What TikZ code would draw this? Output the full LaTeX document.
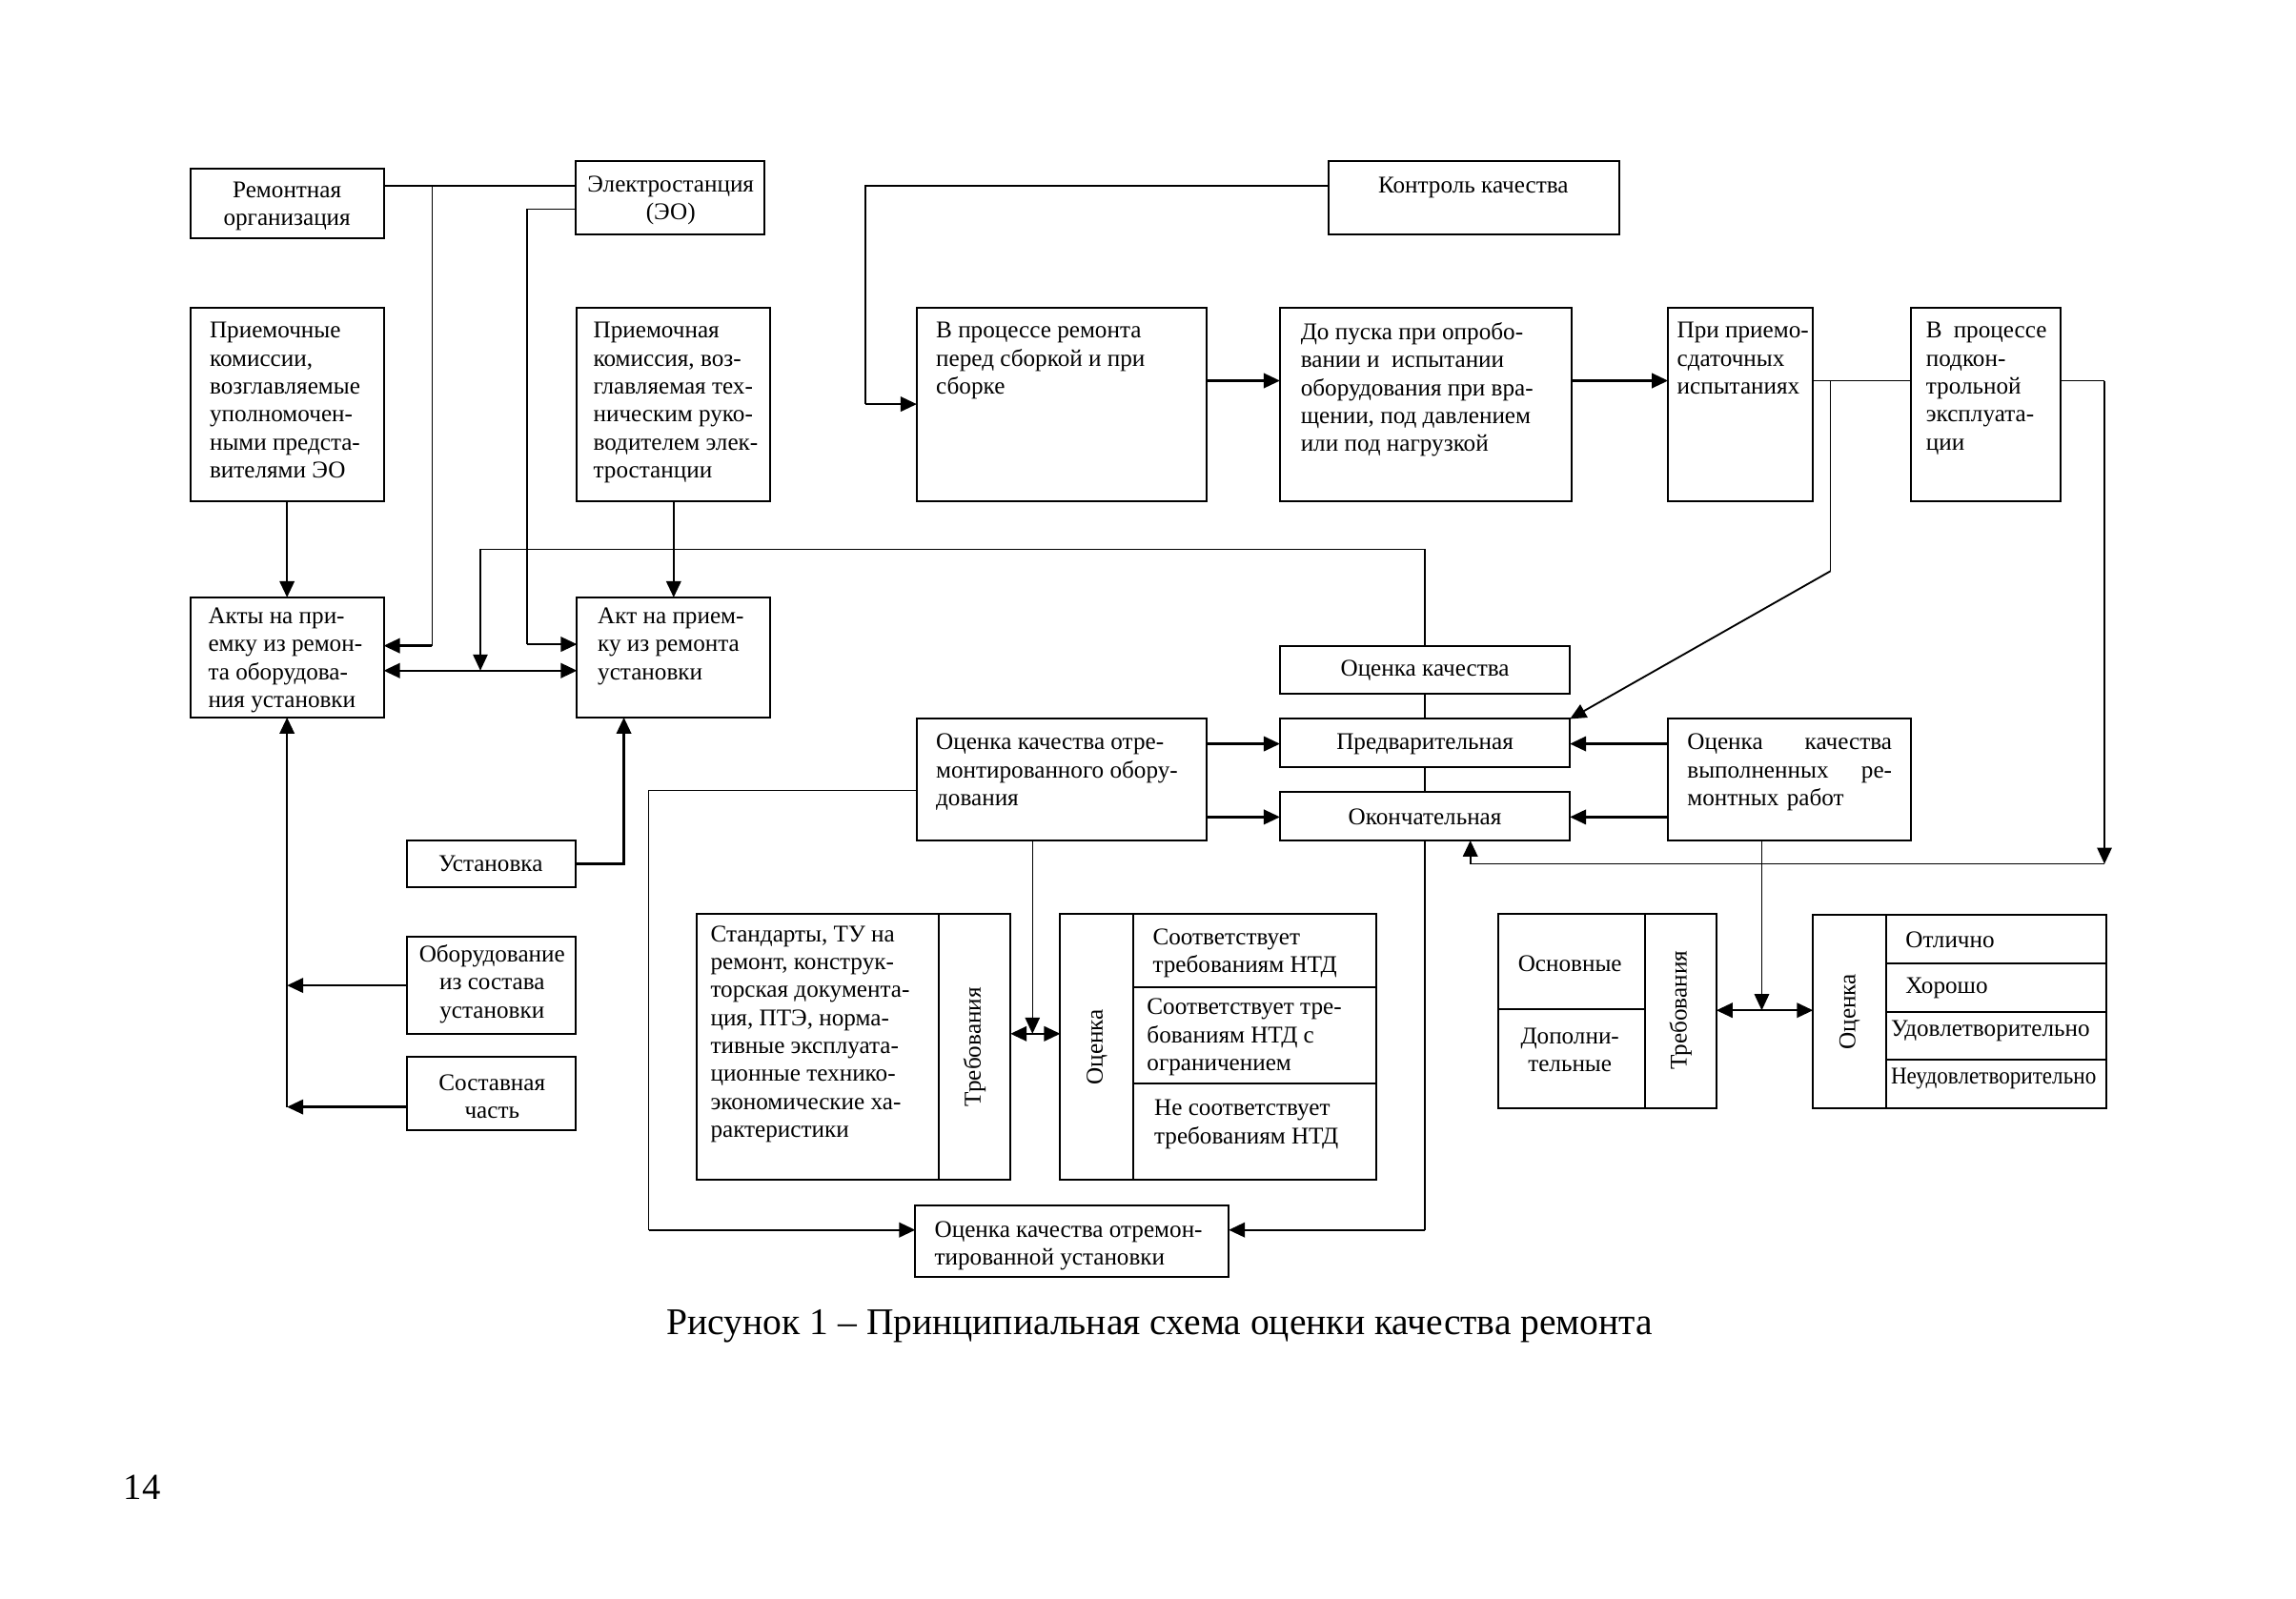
\documentclass[tikz,border=0pt]{standalone}
\usepackage{fontspec}
\setmainfont{Liberation Serif}
\usetikzlibrary{arrows.meta,calc}
\newcommand\mkbox[5]{\node[box, minimum width={(#4-#2)*0.995pt}, minimum height={(#5-#3)*0.995pt}] (#1) at (#2,#3) {};}
\begin{document}
\begin{tikzpicture}[x=0.995pt,y=-0.995pt,
  box/.style={draw, line width=1.3pt, inner sep=0pt, outer sep=0pt, anchor=north west},
  txt/.style={inner sep=0pt, align=left, anchor=north west, font=\fontsize{16.3}{19}\selectfont},
  ctxt/.style={inner sep=0pt, align=center, font=\fontsize{16.3}{19}\selectfont},
  ln/.style={line width=0.9pt},
  tip/.style={-{Triangle[length=11pt,width=10pt]}},
  arr/.style={line width=1.5pt, tip},
  arrt/.style={line width=0.9pt, tip},
  darr/.style={line width=1.5pt, {Triangle[length=11pt,width=10pt]}-{Triangle[length=11pt,width=10pt]}},
  divl/.style={line width=1.3pt}
]
\useasboundingbox (0,0) rectangle (1567.8,1091.5);
% ---------- boxes ----------
\mkbox{ro}{130}{115}{262}{163}
\mkbox{eo}{393}{110}{522}{160}
\mkbox{pk1}{130}{210}{262}{342}
\mkbox{pk2}{394}{210}{526}{342}
\mkbox{akt1}{130}{408}{262}{490}
\mkbox{akt2}{394}{408}{526}{490}
\mkbox{ust}{278}{574}{393}{606}
\mkbox{obo}{278}{640}{393}{706}
\mkbox{sost}{278}{722}{393}{772}
\mkbox{kk}{907}{110}{1106}{160}
\mkbox{s1}{626}{210}{824}{342}
\mkbox{s2}{874}{210}{1073}{342}
\mkbox{s3}{1139}{210}{1238}{342}
\mkbox{s4}{1305}{210}{1407}{342}
\mkbox{ok}{874}{441}{1072}{474}
\mkbox{pr}{874}{491}{1072}{524}
\mkbox{fin}{874}{541}{1072}{574}
\mkbox{oob}{626}{491}{824}{574}
\mkbox{ovr}{1139}{491}{1305}{574}
\mkbox{trb1}{476}{624}{690}{806}
\mkbox{ocn1}{724}{624}{940}{806}
\mkbox{trb2}{1023}{624}{1172}{757}
\mkbox{ocn2}{1238}{625}{1438}{757}
\mkbox{oust}{625}{823}{839}{872}
% dividers
\draw[divl] (641,624) -- (641,806);
\draw[divl] (774,624) -- (774,806);
\draw[divl] (774,674) -- (940,674);
\draw[divl] (774,740) -- (940,740);
\draw[divl] (1123,624) -- (1123,757);
\draw[divl] (1023,689) -- (1123,689);
\draw[divl] (1288,625) -- (1288,757);
\draw[divl] (1288,658) -- (1438,658);
\draw[divl] (1288,691) -- (1438,691);
\draw[divl] (1288,724) -- (1438,724);
% ---------- texts ----------
\node[ctxt] (t1) at (196,141) {Ремонтная\\организация};
\node[ctxt] (t2) at (458,137) {Электростанция\\(ЭО)};
\node[txt] (t3) at (143,220) {Приемочные\\комиссии,\\возглавляемые\\уполномочен-\\ными предста-\\вителями ЭО};
\node[txt] (t4) at (405,220) {Приемочная\\комиссия, воз-\\главляемая тех-\\ническим руко-\\водителем элек-\\тростанции};
\node[txt] (t5) at (142,415) {Акты на при-\\емку из ремон-\\та оборудова-\\ния установки};
\node[txt] (t6) at (408,415) {Акт на прием-\\ку из ремонта\\установки};
\node[ctxt] (t7) at (335,590) {Установка};
\node[ctxt] (t8) at (336,672) {Оборудование\\из состава\\установки};
\node[ctxt] (t9) at (336,749) {Составная\\часть};
\node[ctxt] (t10) at (1006,128) {Контроль качества};
\node[txt] (t11) at (639,220) {В процессе ремонта\\перед сборкой и при\\сборке};
\node[txt] (t12) at (888,220) {До пуска при опробо-\\вании и~ испытании\\оборудования при вра-\\щении, под давлением\\или под нагрузкой};
\node[txt] (t13) at (1145,220) {При приемо-\\сдаточных\\испытаниях};
\node[txt, text width=82pt] (t14) at (1315,220) {В\hfill процессе\\подкон-\\трольной\\эксплуата-\\ции};
\node[ctxt] (t15) at (973,458) {Оценка качества};
\node[ctxt] (t16) at (973,508) {Предварительная};
\node[ctxt] (t17) at (973,558) {Окончательная};
\node[txt] (t18) at (639,501) {Оценка качества отре-\\монтированного обору-\\дования};
\node[txt, text width=139pt] (t19) at (1152,501) {Оценка\hfill качества\\выполненных\hfill ре-\\монтных работ};
\node[txt] (t20) at (485,632) {Стандарты, ТУ на\\ремонт, конструк-\\торская документа-\\ция, ПТЭ, норма-\\тивные эксплуата-\\ционные технико-\\экономические ха-\\рактеристики};
\node[ctxt, rotate=90] (t21) at (665.5,715) {Требования};
\node[ctxt, rotate=90] (t22) at (749,715) {Оценка};
\node[txt] (t23) at (787,634) {Соответствует\\требованиям НТД};
\node[txt] (t24) at (783,682) {Соответствует тре-\\бованиям НТД с\\ограничением};
\node[txt] (t25) at (788,751) {Не соответствует\\требованиям НТД};
\node[ctxt] (t26) at (1072,658) {Основные};
\node[ctxt] (t27) at (1072,717) {Дополни-\\тельные};
\node[ctxt, rotate=90] (t28) at (1147.5,690) {Требования};
\node[ctxt, rotate=90] (t29) at (1263,691) {Оценка};
\node[txt, anchor=west] (t30) at (1301,642) {Отлично};
\node[txt, anchor=west] (t31) at (1301,675) {Хорошо};
\node[txt, anchor=west] (t32) at (1291,704) {Удовлетворительно};
\node[txt, anchor=west] (t33) at (1291,737) {\scalebox{0.92}[1]{Неудовлетворительно}};
\node[txt] (t34) at (638,834) {Оценка качества отремон-\\тированной установки};
\node[inner sep=0pt, font=\fontsize{25.6}{30}\selectfont] (cap) at (792,906) {Рисунок 1 – Принципиальная схема оценки качества ремонта};
\node[inner sep=0pt, font=\fontsize{25}{30}\selectfont] (pg) at (97,1016) {14};
% ---------- connectors ----------
\coordinate (j1) at (295,127);
\coordinate (j1b) at (295,441);
\coordinate (j2) at (360,143);
\coordinate (j2b) at (360,440);
\draw[ln] (ro.east |- j1) -- (eo.west |- j1);
\draw[ln] (j1) -- (j1b);
\draw[arr] (j1b) -- (akt1.east |- j1b);
\draw[ln] (eo.west |- j2) -- (j2) -- (j2b);
\draw[arr] (j2b) -- (akt2.west |- j2b);
\draw[arr] (pk1.south) -- (akt1.north);
\draw[arr] (pk2.south) -- (akt2.north);
\coordinate (j3) at (328,375);
\coordinate (j3b) at (328,458);
\draw[darr] (akt1.east |- j3b) -- (akt2.west |- j3b);
\draw[ln] (ok.north) -- (ok.north |- j3) -- (j3);
\draw[arrt] (j3) -- (j3b);
\draw[arr] (ust.east) -| (akt2.south -| 426,0);
\coordinate (jL) at (197,756);
\draw[arr] (akt1.south |- jL) -- (akt1.south);
\draw[arr] (obo.west |- 0,673) -- (akt1.south |- 0,673);
\draw[arr] (sost.west |- jL) -- (akt1.south |- jL);
\coordinate (j4) at (591,127);
\coordinate (j4b) at (591,276);
\draw[ln] (kk.west |- j4) -- (j4) -- (j4b);
\draw[arr] (j4b) -- (s1.west |- j4b);
\draw[arr] (s1.east |- 0,260) -- (s2.west |- 0,260);
\draw[arr] (s2.east |- 0,260) -- (s3.west |- 0,260);
\draw[ln] (s3.east |- 0,260) -- (s4.west |- 0,260);
\coordinate (j5) at (1250,260);
\coordinate (j5b) at (1250,390);
\draw[ln] (j5) -- (j5b);
\draw[arrt, line width=1.2pt] (j5b) -- (pr.north east);
\coordinate (j6) at (1437,260);
\coordinate (j6b) at (1437,590);
\coordinate (j6c) at (1004,590);
\draw[ln] (s4.east |- j6) -- (j6);
\draw[arrt] (j6) -- (j6b);
\draw[ln] (j6b) -- (j6c);
\draw[arr] (j6c) -- (fin.south -| j6c);
\coordinate (j7) at (1203,690);
\draw[arrt] (ovr.south -| j7) -- (j7);
\draw[darr] (trb2.east |- j7) -- (ocn2.west |- j7);
\draw[arr] (ovr.west |- 0,508) -- (pr.east |- 0,508);
\draw[arr] (ovr.west |- 0,558) -- (fin.east |- 0,558);
\draw[arr] (oob.east |- 0,508) -- (pr.west |- 0,508);
\draw[arr] (oob.east |- 0,558) -- (fin.west |- 0,558);
\draw[ln] (ok.south) -- (pr.north);
\draw[ln] (pr.south) -- (fin.north);
\coordinate (j8) at (973,840);
\draw[ln] (fin.south) -- (j8);
\draw[arr] (j8) -- (oust.east |- j8);
\coordinate (j9) at (443,540);
\coordinate (j9b) at (443,840);
\draw[ln] (oob.west |- j9) -- (j9) -- (j9b);
\draw[arr] (j9b) -- (oust.west |- j9b);
\coordinate (j10) at (705,706);
\draw[arrt] (oob.south -| j10) -- (j10);
\draw[darr] (trb1.east |- j10) -- (ocn1.west |- j10);
\end{tikzpicture}
\end{document}
